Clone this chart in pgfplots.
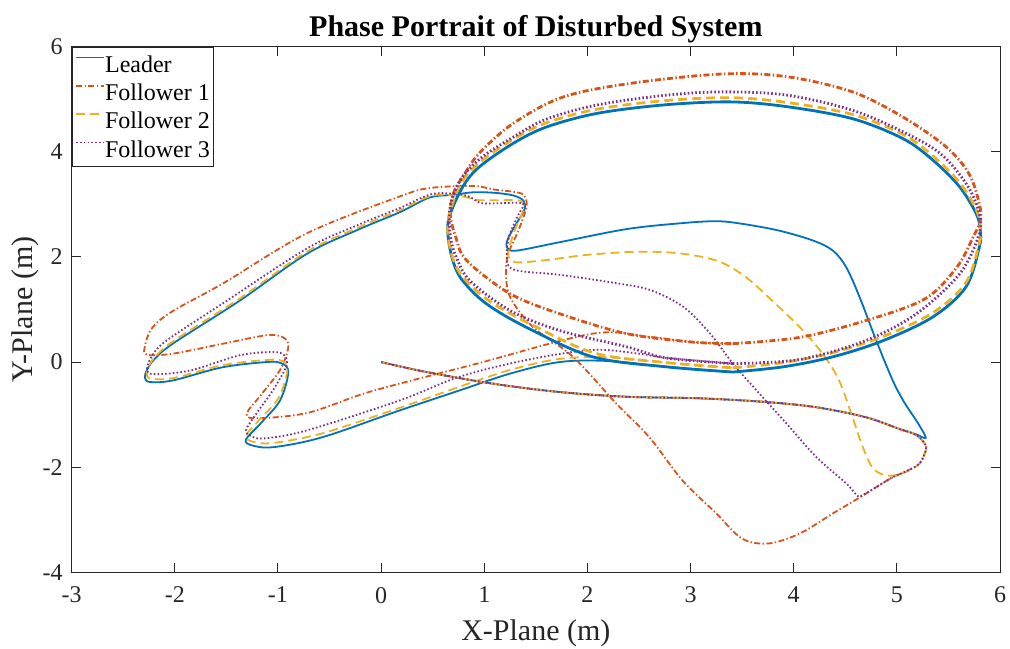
\documentclass[border=0pt]{standalone}
\usepackage{pgfplots}
\pgfplotsset{compat=1.18}
\usepackage{fontspec}
\setmainfont{Liberation Serif}
\usetikzlibrary{calc}
\definecolor{cL}{rgb}{0,0.447,0.741}
\definecolor{cFa}{rgb}{0.85,0.325,0.098}
\definecolor{cFb}{rgb}{0.929,0.694,0.125}
\definecolor{cFc}{rgb}{0.494,0.184,0.556}
\definecolor{axgray}{rgb}{0.15,0.15,0.15}
\begin{document}
\begin{tikzpicture}
\begin{axis}[name=ax, scale only axis, width=464.15pt, height=262.8pt,
  xmin=-3, xmax=6, ymin=-4, ymax=6,
  xtick={-3,-2,...,6}, ytick={-4,-2,0,2,4,6},
  tick align=inside, major tick length=4.6pt,
  axis line style={axgray, line width=0.5pt},
  every tick/.style={axgray, line width=0.5pt},
  /pgf/number format/assume math mode=true,
  tick label style={font=\rmfamily\fontsize{12}{12}\selectfont, text=axgray},
  xticklabel style={anchor=north, inner sep=0pt, yshift=-7.2pt},
  yticklabel style={anchor=east, inner sep=0pt, xshift=-4.35pt},
  legend style={at={(rel axis cs:0,1)}, anchor=north west, draw=axgray, line width=0.5pt,
    font=\rmfamily\fontsize{12}{12}\selectfont, inner xsep=1.65pt, inner ysep=1.5pt,
    nodes={inner sep=0pt, text height=11pt, text depth=3.2pt},
    /tikz/column 2/.style={column sep=2pt}},
  legend cell align=left,
  legend image code/.code={\draw[#1, line width=0.8pt] (0pt,3.5pt) -- (14pt,3.5pt);},
  tr/.style={line width=0.9pt, smooth, tension=0.55},
  el/.style={line width=1.4pt, smooth, tension=0.55},
  sL/.style={color=cL, solid},
  sA/.style={color=cFa, dash pattern=on 3pt off 1.2pt on 0.7pt off 1.2pt},
  sB/.style={color=cFb, dash pattern=on 4.5pt off 2.5pt},
  sC/.style={color=cFc, dash pattern=on 0.8pt off 1.1pt},
]
% Leader transient
\addplot[tr, sL] coordinates {
(0,0) (0.44,-0.19) (1.08,-0.41) (1.73,-0.57) (2.38,-0.66) (3.09,-0.69) (3.73,-0.76) (4.22,-0.86) (4.7,-1.05) (5.02,-1.27)
(5.18,-1.37) (5.28,-1.44) (5.2,-1.15) (5.07,-0.76) (4.96,-0.35) (4.8,0.41) (4.64,1.23) (4.51,1.8) (4.38,2.12) (4.19,2.31)
(3.86,2.5) (3.5,2.63) (3.25,2.68) (2.9,2.64) (2.38,2.53) (1.73,2.28) (1.31,2.12) (1.22,2.18) (1.23,2.35) (1.31,2.63)
(1.39,2.9) (1.38,3.07) (1.28,3.17) (1.1,3.22) (0.89,3.23) (0.7,3.18) (0.47,3.13) (0.18,2.85) (-0.21,2.53) (-0.72,2.06)
(-1.37,1.17) (-2.02,0.35) (-2.2,0.05) (-2.27,-0.15) (-2.29,-0.3) (-2.24,-0.38) (-2.02,-0.35) (-1.54,-0.1) (-1.11,0)
(-0.97,-0.02) (-0.9,-0.19) (-0.98,-0.73) (-1.17,-1.17) (-1.31,-1.47) (-1.26,-1.58) (-1.05,-1.62) (-0.57,-1.43)
(0.18,-0.92) (0.76,-0.54) (1.25,-0.22) (1.73,0.0) (2.2,0.02) (2.76,-0.09) (3.41,-0.19)
};
\addlegendentry{Leader}
% Follower 1 transient
\addplot[tr, sA] coordinates {
(0,0) (0.44,-0.19) (1.08,-0.41) (1.73,-0.57) (2.38,-0.66) (3.09,-0.69) (3.73,-0.76) (4.22,-0.86) (4.7,-1.05) (5.02,-1.27)
(5.18,-1.38) (5.27,-1.55) (5.28,-1.68) (5.22,-1.93) (5.1,-2.07) (4.96,-2.19) (4.8,-2.38) (4.67,-2.54) (4.38,-2.88)
(4.06,-3.26) (3.76,-3.45) (3.5,-3.36) (3.25,-2.88) (2.92,-2.25) (2.6,-1.43) (2.28,-0.79) (1.86,0.1) (1.47,0.67)
(1.25,1.24) (1.21,1.75) (1.24,2.1) (1.33,2.5) (1.41,2.96) (1.38,3.18) (1.28,3.24) (1.1,3.28) (0.89,3.35) (0.47,3.31)
(0.18,3.15) (-0.72,2.45) (-1.53,1.5) (-2.02,0.97) (-2.22,0.65) (-2.29,0.3) (-2.27,0.14) (-2.02,0.16) (-1.53,0.35)
(-1.11,0.51) (-0.95,0.47) (-0.9,0.29) (-0.98,-0.15) (-1.18,-0.66) (-1.3,-0.97) (-1.22,-1.07) (-0.72,-0.97)
(-0.2,-0.62) (0.18,-0.41) (0.93,-0.03) (2.05,0.54) (2.6,0.48) (3.02,0.38) (3.41,0.35)
};
\addlegendentry{Follower 1}
% Follower 2 transient
\addplot[tr, sB] coordinates {
(0,0) (0.44,-0.19) (1.08,-0.41) (1.73,-0.57) (2.38,-0.66) (3.09,-0.69) (3.73,-0.76) (4.22,-0.86) (4.7,-1.05) (5.02,-1.27)
(5.18,-1.38) (5.27,-1.55) (5.28,-1.68) (5.22,-1.93) (5.1,-2.08) (4.96,-2.16) (4.85,-2.13) (4.76,-2.0) (4.67,-1.62)
(4.57,-1.05) (4.44,-0.35) (4.28,0.16) (4.06,0.66) (3.79,1.17) (3.54,1.61) (3.28,1.91) (2.93,2.06) (2.51,2.1) (2.0,2.04)
(1.6,1.94) (1.3,1.9) (1.23,2.05) (1.26,2.3) (1.31,2.58) (1.38,2.9) (1.37,3.04) (1.3,3.08) (0.95,3.08) (0.79,3.15)
(0.5,3.17) (0.18,2.89) (-0.21,2.57) (-0.72,2.1) (-1.37,1.21) (-2.02,0.39) (-2.2,0.08) (-2.26,-0.12) (-2.27,-0.26)
(-2.22,-0.32) (-2.0,-0.3) (-1.54,-0.06) (-1.11,0.04) (-0.96,0.02) (-0.91,-0.15) (-0.99,-0.67) (-1.18,-1.1) (-1.31,-1.4)
(-1.25,-1.51) (-1.05,-1.54) (-0.56,-1.35) (0.18,-0.87) (0.76,-0.47) (1.25,-0.15) (1.73,0.06) (2.2,0.09) (2.76,-0.01)
(3.41,-0.11)
};
\addlegendentry{Follower 2}
% Follower 3 transient
\addplot[tr, sC] coordinates {
(0,0) (0.44,-0.19) (1.08,-0.41) (1.73,-0.57) (2.38,-0.66) (3.09,-0.69) (3.73,-0.76) (4.22,-0.86) (4.7,-1.05) (5.02,-1.27)
(5.18,-1.38) (5.27,-1.55) (5.28,-1.68) (5.22,-1.93) (5.1,-2.07) (4.96,-2.19) (4.8,-2.38) (4.67,-2.53) (4.62,-2.55)
(4.51,-2.31) (4.22,-1.81) (3.93,-1.17) (3.64,-0.54) (3.41,-0.03) (3.19,0.54) (2.93,1.05) (2.61,1.37) (2.28,1.5)
(1.73,1.66) (1.3,1.75) (1.22,1.95) (1.24,2.38) (1.33,2.8) (1.38,2.98) (1.33,3.03) (0.99,3.02) (0.89,3.11) (0.79,3.18)
(0.5,3.2) (0.18,2.93) (-0.21,2.62) (-0.72,2.16) (-1.54,1.11) (-2.08,0.41) (-2.22,0.12) (-2.27,-0.14) (-2.2,-0.23)
(-1.85,-0.16) (-1.37,0.13) (-1.05,0.19) (-0.94,0.13) (-0.92,-0.08) (-1.05,-0.54) (-1.21,-0.98) (-1.31,-1.3)
(-1.25,-1.42) (-1.12,-1.45) (-0.72,-1.3) (0.18,-0.73) (0.76,-0.28) (1.41,0.04) (2.05,0.23) (2.5,0.16) (2.76,0.08)
(3.41,-0.03)
};
\addlegendentry{Follower 3}
% limit cycles
\addplot[el, sL, forget plot] coordinates {
(3.41,-0.19) (3.9,-0.09) (4.38,0.1) (4.87,0.41) (5.35,0.86) (5.67,1.43) (5.8,2.19) (5.81,2.5) (5.77,2.82) (5.61,3.33)
(5.35,3.84) (5.06,4.25) (4.57,4.63) (3.93,4.86) (3.38,4.95) (2.73,4.89) (2.09,4.73) (1.6,4.47) (1.28,4.16) (0.95,3.71)
(0.79,3.33) (0.66,2.76) (0.65,2.37) (0.7,1.9) (0.79,1.55) (1.02,1.11) (1.41,0.66) (2.05,0.1) (2.76,-0.09) (3.41,-0.19)
};
\addplot[el, sA, forget plot] coordinates {
(3.41,0.35) (4.06,0.47) (4.7,0.79) (5.27,1.2) (5.58,1.8) (5.74,2.38) (5.81,2.7) (5.8,3.01) (5.7,3.58) (5.48,4.09)
(5.06,4.66) (4.57,5.14) (3.93,5.43) (3.3,5.48) (2.41,5.3) (1.76,5.04) (1.28,4.54) (0.95,3.97) (0.79,3.52) (0.7,3.21)
(0.67,2.82) (0.72,2.4) (0.83,1.93) (1.25,1.3) (1.73,0.92) (2.38,0.54) (3.02,0.38) (3.41,0.35)
};
\addplot[el, sB, forget plot] coordinates {
(3.41,-0.11) (3.9,-0.01) (4.38,0.18) (4.87,0.49) (5.35,0.94) (5.67,1.51) (5.8,2.27) (5.81,2.58) (5.77,2.9) (5.61,3.41)
(5.35,3.92) (5.06,4.33) (4.57,4.71) (3.93,4.94) (3.38,5.03) (2.73,4.97) (2.09,4.81) (1.6,4.55) (1.28,4.24) (0.95,3.79)
(0.77,3.38) (0.66,2.8) (0.65,2.4) (0.7,1.95) (0.8,1.6) (1.05,1.16) (1.45,0.72) (2.07,0.17) (2.76,-0.01) (3.41,-0.11)
};
\addplot[el, sC, forget plot] coordinates {
(3.41,-0.03) (4.06,0.05) (4.7,0.41) (5.19,0.92) (5.61,1.68) (5.8,2.45) (5.79,2.89) (5.67,3.4) (5.42,3.97) (5.06,4.38)
(4.57,4.79) (3.93,5.08) (3.3,5.14) (2.73,5.07) (2.09,4.89) (1.6,4.62) (1.28,4.28) (0.98,3.9) (0.78,3.5) (0.68,3.05)
(0.66,2.69) (0.68,2.3) (0.73,1.99) (0.86,1.55) (1.25,0.98) (1.73,0.6) (2.38,0.29) (2.76,0.08) (3.41,-0.03)
};
\end{axis}
\node[font=\rmfamily\fontsize{15}{15}\selectfont\bfseries, anchor=base] at ($(ax.north)+(0,5.3pt)$) {Phase Portrait of Disturbed System};
\node[font=\rmfamily\fontsize{15}{15}\selectfont, text=axgray, anchor=base] at ($(ax.south)+(0,-33.85pt)$) {X-Plane (m)};
\node[font=\rmfamily\fontsize{15}{15}\selectfont, text=axgray, anchor=base, rotate=90] at ($(ax.west)+(-19.4pt,0)$) {Y-Plane (m)};
\pgfresetboundingbox
\path ($(ax.south west)+(-35.85pt,-37.85pt)$) rectangle ($(ax.north east)+(5pt,23.35pt)$);
\end{tikzpicture}
\end{document}
